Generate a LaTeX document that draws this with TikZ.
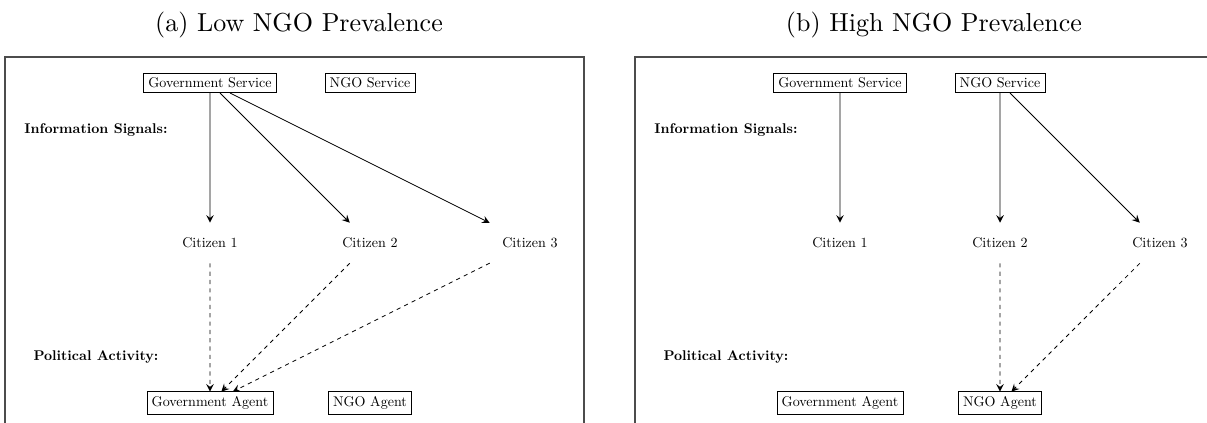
\documentclass[tikz,border=0pt]{standalone}
\begin{document}
\begin{tikzpicture}[>=stealth,scale=0.5407,
    box/.style={draw,line width=0.3pt,transform shape},
    person/.style={minimum width=2cm,minimum height=1cm,transform shape},
    rowlabel/.style={font=\bfseries,transform shape},
    signal/.style={->,line width=0.3pt},
    activity/.style={->,line width=0.3pt,dash pattern=on 1.6pt off 1.6pt},
    frame/.style={draw=black!70,line width=0.5pt}]
    \useasboundingbox (-5.25,-8.5) rectangle (24.925,2.075);
    \clip (-5.25,-8.5) rectangle (24.925,2.075);
    % (a) low prevalence
    \node (ta) at (2.225,1.45) {(a) Low NGO Prevalence};
    \path[frame] (-5.125,-9) rectangle (9.35,0.65);
    \node[box] (gs) at (0,0) {Government Service};
    \node[box] (ns) at (4,0) {NGO Service};
    \node[rowlabel] (info) at (-2.85,-1.175) {Information Signals:};
    \node[person] (c1) at (0,-4) {Citizen 1};
    \node[person] (c2) at (4,-4) {Citizen 2};
    \node[person] (c3) at (8,-4) {Citizen 3};
    \node[rowlabel] (pol) at (-2.85,-6.85) {Political Activity:};
    \node[box] (ga) at (0,-8) {Government Agent};
    \node[box] (na) at (4,-8) {NGO Agent};
    \draw[signal] (gs) -- (c1);
    \draw[signal] (gs) -- (c2);
    \draw[signal] (gs) -- (c3);
    \draw[activity] (c1) -- (ga);
    \draw[activity] (c2) -- (ga);
    \draw[activity] (c3) -- (ga);
    % (b) high prevalence
    \node (tb) at (18.1,1.45) {(b) High NGO Prevalence};
    \begin{scope}[shift={(15.75,0)}]
        \path[frame] (-5.125,-9) rectangle (9.35,0.65);
        \node[box] (gsb) at (0,0) {Government Service};
        \node[box] (nsb) at (4,0) {NGO Service};
        \node[rowlabel] (infob) at (-2.85,-1.175) {Information Signals:};
        \node[person] (c1b) at (0,-4) {Citizen 1};
        \node[person] (c2b) at (4,-4) {Citizen 2};
        \node[person] (c3b) at (8,-4) {Citizen 3};
        \node[rowlabel] (polb) at (-2.85,-6.85) {Political Activity:};
        \node[box] (gab) at (0,-8) {Government Agent};
        \node[box] (nab) at (4,-8) {NGO Agent};
        \draw[signal] (gsb) -- (c1b);
        \draw[signal] (nsb) -- (c2b);
        \draw[signal] (nsb) -- (c3b);
        \draw[activity] (c2b) -- (nab);
        \draw[activity] (c3b) -- (nab);
    \end{scope}
\end{tikzpicture}
\end{document}
